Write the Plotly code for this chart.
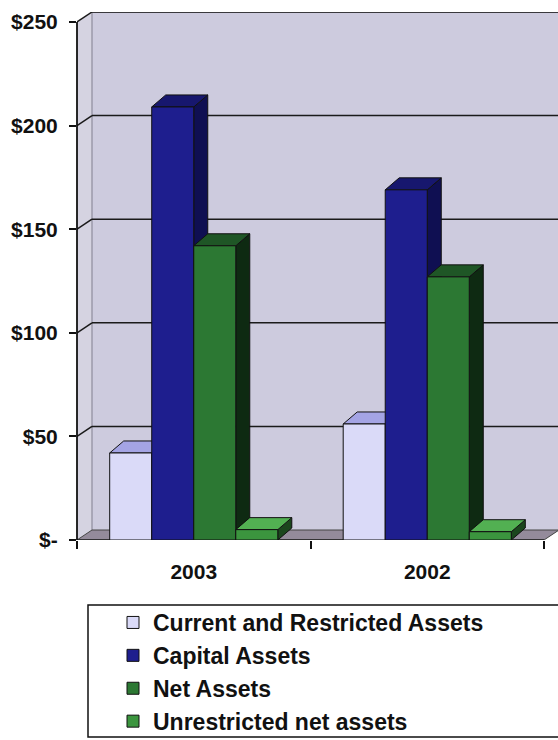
import plotly.graph_objects as go

# ---------------- data ----------------
categories = ["2003", "2002"]
current_restricted = [42, 56]
capital_assets = [209, 169]
net_assets = [142, 127]
unrestricted_net = [5, 4]
series_names = ["Current and Restricted Assets", "Capital Assets",
                "Net Assets", "Unrestricted net assets"]
y_tick_values = [0, 50, 100, 150, 200, 250]
y_tick_labels = ["$-", "$50", "$100", "$150", "$200", "$250"]

# ---------------- styling ----------------
series_values = [current_restricted, capital_assets, net_assets, unrestricted_net]
front_colors = ["#dadaf8", "#1e1e8e", "#2c7833", "#3b953e"]
top_colors = ["#a4a4e4", "#17176e", "#1f5626", "#52b052"]
side_colors = ["#8a8ac6", "#0f0f52", "#0e2a12", "#1b461d"]

W, H = 558, 740
ML, MR, MT, MB = 77, 0, 12, 200
plot_w = W - ML - MR
plot_h = H - MT - MB
px_per_cat = 233.5
x_max = plot_w / px_per_cat
wall_dx_px, wall_dy_px = 15, 10
y_front_top = max(y_tick_values)
px_per_val = (plot_h - wall_dy_px) / y_front_top
y_max = y_front_top + wall_dy_px / px_per_val

wdx = wall_dx_px / px_per_cat
wdy = wall_dy_px / px_per_val
bar_dx = 14 / px_per_cat
bar_dy = 12 / px_per_val

bargap = 0.28
group_w = 1 - bargap
bar_w = group_w / len(series_values)
n_cat = len(categories)
x_centers = [i + 0.5 for i in range(n_cat)]

FONT = "Arial, Liberation Sans, sans-serif"

fig = go.Figure()

shapes = []
# back wall
shapes.append(dict(type="rect", xref="x", yref="y", x0=wdx, x1=x_max + 0.1,
                   y0=wdy, y1=y_max, fillcolor="#cdcbde", line=dict(width=0),
                   layer="below"))
# left side wall
shapes.append(dict(type="path", xref="x", yref="y",
                   path=f"M 0,0 L {wdx},{wdy} L {wdx},{y_max} L 0,{y_front_top} Z",
                   fillcolor="#d5d3e1", line=dict(width=0), layer="below"))
shapes.append(dict(type="line", xref="x", yref="y", x0=wdx, x1=wdx, y0=wdy, y1=y_max,
                   line=dict(color="#8e8c9c", width=1.2), layer="below"))
# wall top edge
shapes.append(dict(type="line", xref="x", yref="y", x0=wdx, x1=x_max + 0.1,
                   y0=y_max, y1=y_max, line=dict(color="#9a98a8", width=2), layer="below"))
# floor
shapes.append(dict(type="path", xref="x", yref="y",
                   path=f"M 0,0 L {n_cat},0 L {n_cat + wdx},{wdy} L {wdx},{wdy} Z",
                   fillcolor="#948b9b", line=dict(color="#444", width=1), layer="below"))
# gridlines on wall + connectors on side wall
for v in y_tick_values[1:]:
    shapes.append(dict(type="line", xref="x", yref="y", x0=wdx, x1=x_max + 0.1,
                       y0=v + wdy, y1=v + wdy, line=dict(color="#1a1a1a", width=1.5),
                       layer="below"))
    shapes.append(dict(type="line", xref="x", yref="y", x0=0, x1=wdx,
                       y0=v, y1=v + wdy, line=dict(color="#1a1a1a", width=1.5),
                       layer="below"))
# front x axis line
shapes.append(dict(type="line", xref="x", yref="y", x0=0, x1=n_cat, y0=0, y1=0,
                   line=dict(color="#222", width=1.5), layer="below"))

# bars
for j, (name, vals) in enumerate(zip(series_names, series_values)):
    off = -group_w / 2 + j * bar_w
    fig.add_trace(go.Bar(
        x=x_centers, y=vals, width=bar_w, offset=off, name=name,
        marker=dict(color=front_colors[j], line=dict(color="#111", width=1)),
    ))

# 3D faces (side + top), drawn left to right so nearer bars overlap
for i, xc in enumerate(x_centers):
    for j, vals in enumerate(series_values):
        v = vals[i]
        x0 = xc - group_w / 2 + j * bar_w
        x1 = x0 + bar_w
        shapes.append(dict(type="path", xref="x", yref="y", layer="between",
                           path=f"M {x1},0 L {x1 + bar_dx},{bar_dy} L {x1 + bar_dx},{v + bar_dy} L {x1},{v} Z",
                           fillcolor=side_colors[j], line=dict(color="#111", width=1)))
        shapes.append(dict(type="path", xref="x", yref="y", layer="between",
                           path=f"M {x0},{v} L {x1},{v} L {x1 + bar_dx},{v + bar_dy} L {x0 + bar_dx},{v + bar_dy} Z",
                           fillcolor=top_colors[j], line=dict(color="#111", width=1)))

# y axis line (front)
shapes.append(dict(type="line", xref="paper", yref="y", x0=0, x1=0, y0=0, y1=y_front_top,
                   line=dict(color="#111", width=1.8), layer="above"))

# legend frame
shapes.append(dict(type="rect", xref="paper", yref="paper",
                   x0=(88 - ML) / plot_w, x1=1.05,
                   y0=(H - MB - 737) / plot_h, y1=(H - MB - 605) / plot_h,
                   line=dict(color="#111", width=1.5), fillcolor="rgba(0,0,0,0)"))

fig.update_layout(
    width=W, height=H,
    margin=dict(l=ML, r=MR, t=MT, b=MB, pad=0, autoexpand=False),
    paper_bgcolor="white", plot_bgcolor="rgba(0,0,0,0)",
    barmode="overlay",
    shapes=shapes,
    showlegend=True,
    legend=dict(xref="container", yref="container",
                x=113 / W, y=1 - 601 / H, xanchor="left", yanchor="top",
                font=dict(family=FONT, size=23, color="#111", weight="bold"),
                bgcolor="rgba(0,0,0,0)", borderwidth=0, traceorder="normal"),
    xaxis=dict(range=[0, x_max], tickmode="array", tickvals=x_centers, ticktext=categories,
               ticks="", showgrid=False, zeroline=False, showline=False,
               tickfont=dict(family=FONT, size=21, color="#111", weight="bold"),
               ticklabelstandoff=17,
               minor=dict(tickmode="array", tickvals=list(range(n_cat + 1)), ticks="outside",
                          ticklen=8, tickwidth=1.5, tickcolor="#111", showgrid=False)),
    yaxis=dict(range=[0, y_max], tickmode="array", tickvals=y_tick_values, ticktext=y_tick_labels,
               ticks="outside", ticklen=7, tickwidth=1.5, tickcolor="#111",
               showgrid=False, zeroline=False, showline=False,
               tickfont=dict(family=FONT, size=21, color="#111", weight="bold"),
               ticklabelstandoff=7),
)

fig.write_html("out.html")
